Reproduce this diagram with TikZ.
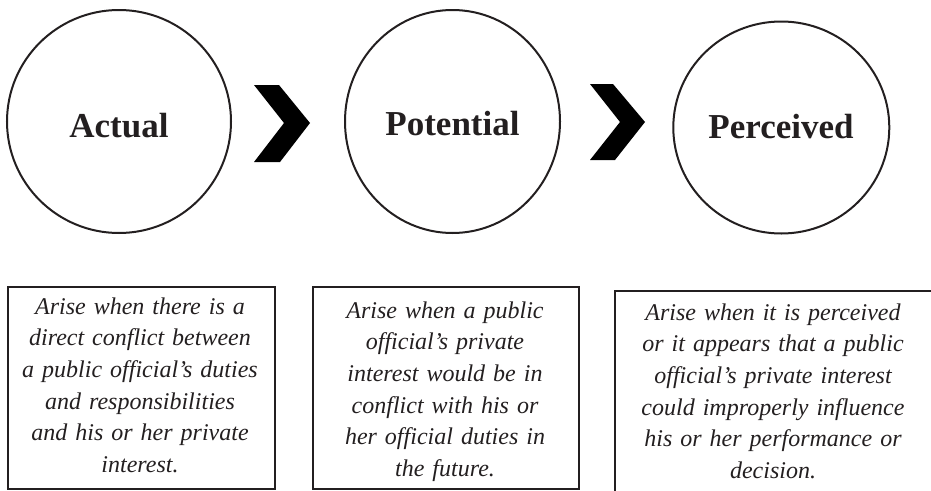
\documentclass[tikz,border=0pt]{standalone}
\usepackage{fontspec}
\setmainfont{Liberation Serif}
\usetikzlibrary{shapes.geometric}
\definecolor{ink}{HTML}{231F20}
\tikzset{
  stage/.style={draw=ink, line width=2pt, ellipse, inner sep=0pt},
  title/.style={anchor=base, text=ink, inner sep=0pt, font=\fontsize{35}{40}\selectfont\bfseries},
  descbox/.style={draw=ink, line width=2.3pt, rectangle, inner sep=0pt, anchor=north west},
  desc/.style={anchor=base, text=ink, inner sep=0pt, align=center, text width=300pt,
    font=\fontsize{24}{31.7}\selectfont\itshape},
  chev/.style={fill=black, draw=none}
}
\begin{document}
\begin{tikzpicture}[x=1pt,y=-1pt]
\useasboundingbox (0,0) rectangle (931,490);
\clip (0,0) rectangle (931,490);
% stages
\node[stage, minimum width=224pt, minimum height=223pt] (c1) at (119,121.5) {};
\node[stage, minimum width=215pt, minimum height=223pt] (c2) at (452.5,121.5) {};
\node[stage, minimum width=216pt, minimum height=212pt] (c3) at (781.3,127.5) {};
\node[title] (t1) at (119,137) {Actual};
\node[title] (t2) at (452.5,135) {Potential};
\node[title] (t3) at (781,138) {Perceived};
% chevrons
\fill[chev] (254,85) -- (279,85) -- (310,123) -- (280,162) -- (254,162) -- (284,123) -- cycle;
\fill[chev] (590,84) -- (613,84) -- (645,122) -- (615,160) -- (590,160) -- (620,122) -- cycle;
% description boxes
\node[descbox, minimum width=267pt, minimum height=202pt] (b1) at (7,286) {};
\node[descbox, minimum width=266pt, minimum height=202pt] (b2) at (312,286) {};
\node[descbox, minimum width=340pt, minimum height=230pt] (b3) at (614,290) {};
\node[desc] (d1) at (140,314) {Arise when there is a\\direct conflict between\\a public official’s duties\\and responsibilities\\and his or her private\\interest.};
\node[desc] (d2) at (445,318) {Arise when a public\\official’s private\\interest would be in\\conflict with his or\\her official duties in\\the future.};
\node[desc] (d3) at (773,320) {Arise when it is perceived\\or it appears that a public\\official’s private interest\\could improperly influence\\his or her performance or\\decision.};
\end{tikzpicture}
\end{document}
